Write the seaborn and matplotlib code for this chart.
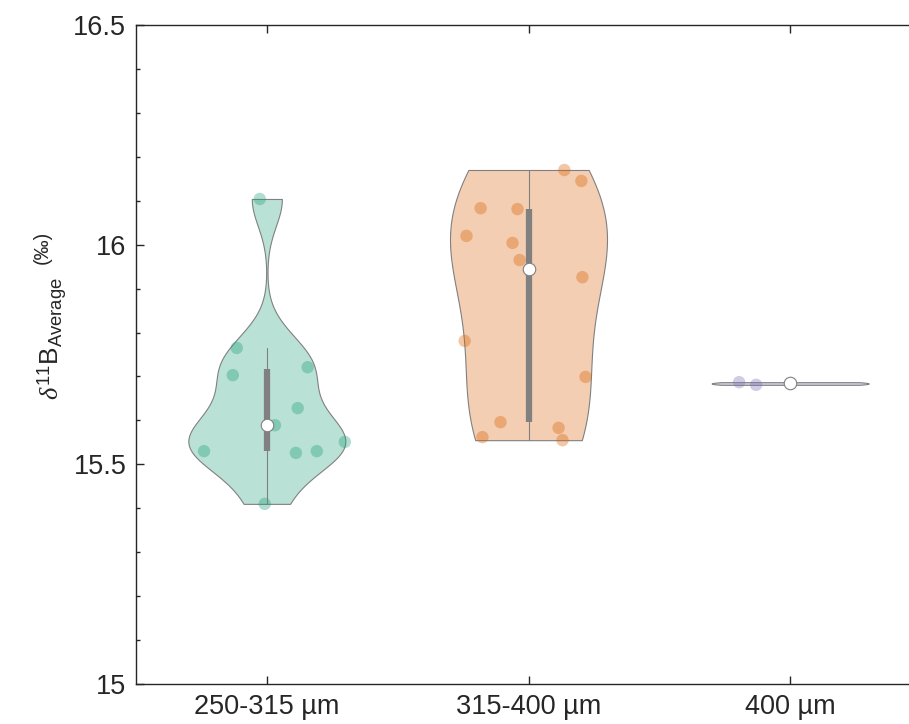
import numpy as np
import pandas as pd
import matplotlib
matplotlib.use('Agg')
import matplotlib.pyplot as plt
import matplotlib.colors as mcolors
from matplotlib.ticker import MultipleLocator
import seaborn as sns

# size fractions
groups = ['250-315 µm', '315-400 µm', '400 µm']

# d11B values (per mille)
d11b_250 = [16.104, 15.765, 15.703, 15.721, 15.628, 15.589, 15.530, 15.526, 15.530, 15.551, 15.410]
d11b_315 = [16.170, 16.145, 16.083, 16.081, 16.020, 16.004, 15.965, 15.926, 15.781, 15.699,
            15.596, 15.583, 15.562, 15.555]
d11b_400 = [15.687, 15.681]

# horizontal scatter offset of each point, as drawn
jit_250 = [-0.027, -0.115, -0.130, 0.156, 0.118, 0.031, -0.240, 0.111, 0.191, 0.298, -0.008]
jit_315 = [0.137, 0.202, -0.183, -0.042, -0.237, -0.061, -0.034, 0.206, -0.244, 0.218,
           -0.107, 0.115, -0.176, 0.130]
jit_400 = [-0.195, -0.130]

colors = ['#1b9e77', '#d95f02', '#7570b3']
gray = '#808080'
ink = '#262626'

values = [d11b_250, d11b_315, d11b_400]
jitters = [jit_250, jit_315, jit_400]
df = pd.DataFrame({
    'group': np.repeat(groups, [len(v) for v in values]),
    'd11B': np.concatenate(values),
    'pos': np.repeat(np.arange(len(groups)), [len(v) for v in values]),
    'jit': np.concatenate(jitters),
})


def silverman_mad(kde):
    # ksdensity-like bandwidth (robust Silverman), returned as a factor of std
    x = kde.dataset[0]
    sig = np.median(np.abs(x - np.median(x))) / 0.6745
    bw = sig * (4 / (3 * kde.n)) ** 0.2
    return bw / np.std(x, ddof=1)


sns.set_style('white')
plt.rcParams['font.family'] = ['Liberation Sans', 'DejaVu Sans']
plt.rcParams['mathtext.fontset'] = 'custom'
plt.rcParams['mathtext.rm'] = 'Liberation Sans'
plt.rcParams['mathtext.it'] = 'Liberation Serif:italic'
plt.rcParams['mathtext.bf'] = 'Liberation Sans:bold'

fig = plt.figure(figsize=(9.09, 7.24), dpi=100)
ax = fig.add_axes([136 / 909, 40 / 724, 785 / 909, 659 / 724])

sns.violinplot(data=df, x='group', y='d11B', hue='group', order=groups, hue_order=groups,
               palette=colors, legend=False, cut=0, width=0.6, density_norm='width',
               inner=None, bw_method=silverman_mad, saturation=1, linecolor=gray,
               linewidth=0.8, ax=ax)
for c in ax.collections:
    fc = c.get_facecolor()
    if len(fc):
        c.set_facecolor(mcolors.to_rgba(fc[0], 0.3))

sns.scatterplot(x=df['pos'] + df['jit'], y=df['d11B'], hue=df['group'],
                palette=dict(zip(groups, colors)), alpha=0.35, s=80, linewidth=0,
                legend=False, ax=ax, zorder=3)

for i, v in enumerate(values):
    v = np.asarray(v)
    q1, med, q3 = np.percentile(v, [25, 50, 75], method='hazen')
    iqr = q3 - q1
    lo = v[v >= q1 - 1.5 * iqr].min()
    hi = v[v <= q3 + 1.5 * iqr].max()
    ax.plot([i, i], [lo, hi], color=gray, lw=0.8, zorder=4)
    ax.plot([i, i], [q1, q3], color=gray, lw=4.5, solid_capstyle='butt', zorder=5)
    ax.plot(i, med, 'o', ms=9, mfc='white', mec=gray, mew=0.8, zorder=6)

ax.set_xlim(-0.5, 2.5)
ax.set_ylim(15, 16.5)
ax.set_xticks(range(len(groups)))
ax.set_xticklabels(groups)
ax.set_yticks([15, 15.5, 16, 16.5])
ax.set_yticklabels(['15', '15.5', '16', '16.5'])
ax.yaxis.set_minor_locator(MultipleLocator(0.1))

ax.tick_params(which='both', direction='in', left=True, bottom=True, top=True, right=True,
               color=ink, labelcolor=ink, labelsize=19.5, width=1)
ax.tick_params(which='major', length=6, pad=7)
ax.tick_params(which='minor', length=3)
ax.tick_params(axis='x', which='minor', top=False, bottom=False)
for s in ax.spines.values():
    s.set_visible(True)
    s.set_color(ink)
    s.set_linewidth(1)

ax.set_xlabel('')
ax.set_ylabel(r'$\delta^{11}\mathrm{B}_{\mathrm{Average}}$', fontsize=19, color=ink)
ax.yaxis.set_label_coords(-0.085, 0.524)
ax.text(-0.107, 0.662, '(‰)', transform=ax.transAxes, rotation=90, rotation_mode='anchor',
        ha='center', va='bottom', fontsize=14.5, color=ink)

fig.savefig('out.png', dpi=100)
